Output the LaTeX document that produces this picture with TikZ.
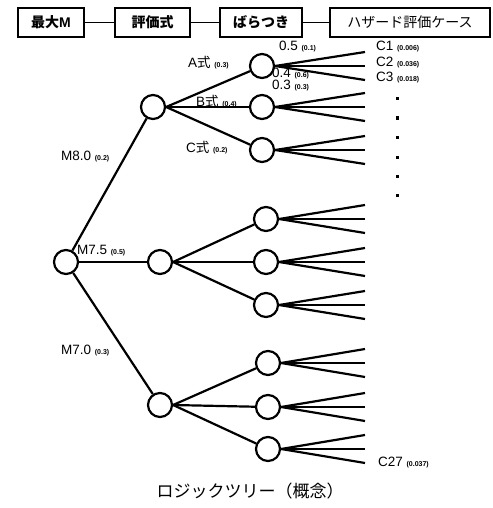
\documentclass[tikz,border=0pt]{standalone}
\usepackage{fontspec}
\setmainfont{Liberation Sans}
\newfontfamily\jp{Noto Sans CJK JP}
\newcommand\prb[1]{{\fontsize{7}{7}\selectfont\bfseries(#1)}}
\begin{document}
\begin{tikzpicture}[x=1pt,y=-1pt,
  line width=2.2pt,
  st/.style={circle,draw,line width=2.2pt,minimum size=24pt,inner sep=0pt,fill=white},
  hbox/.style={draw,line width=1.8pt,minimum height=29pt,inner sep=0pt,font=\bfseries\fontsize{14}{14}\selectfont},
  lab/.style={anchor=west,inner sep=0pt,font=\fontsize{13.5}{13.5}\selectfont},
  dot/.style={fill=black}
]
\useasboundingbox (0,0) rectangle (492,508);
% header boxes
\node[hbox,minimum width=66pt] (h1) at (51,22.5) {{\jp 最大}M};
\node[hbox,minimum width=75pt] (h2) at (152.5,22.5) {\jp 評価式};
\node[hbox,minimum width=82pt] (h3) at (261,22.5) {\jp ばらつき};
\node[hbox,minimum width=160pt] (h4) at (410,22.5) {\jp\mdseries ハザード評価ケース};
\draw[line width=1.8pt] (h1.east) -- (h2.west);
\draw[line width=1.8pt] (h2.east) -- (h3.west);
\draw[line width=1.8pt] (h3.east) -- (h4.west);
% tree nodes
\node[st] (R) at (66,262) {};
\node[st] (a) at (153,107) {};
\node[st] (b) at (160,262) {};
\node[st] (c) at (160,405) {};
\node[st] (a1) at (262,66) {};
\node[st] (a2) at (262,107) {};
\node[st] (a3) at (262,150) {};
\node[st] (b1) at (266,219) {};
\node[st] (b2) at (266,262) {};
\node[st] (b3) at (266,305) {};
\node[st] (c1) at (268,363) {};
\node[st] (c2) at (268,407) {};
\node[st] (c3) at (268,449) {};
% edges
\draw (R) -- (a);
\draw (R) -- (b);
\draw (R) -- (c);
\foreach \p in {a,b,c}{
  \foreach \q in {1,2,3}{
    \draw (\p.east) -- (\p\q);
  }
}
% leaves
\foreach \n in {a1,a2,a3,b1,b2,b3,c1,c2,c3}{
  \path (\n) ++(0,-14) coordinate (\n-u);
  \path (\n) ++(0,14) coordinate (\n-d);
  \coordinate (\n-U) at (365,0 |- \n-u);
  \coordinate (\n-M) at (365,0 |- \n);
  \coordinate (\n-D) at (365,0 |- \n-d);
  \draw (\n.east) -- (\n-U);
  \draw (\n.east) -- (\n-M);
  \draw (\n.east) -- (\n-D);
}
% labels
\node[lab] (lm80) at (60,157) {M8.0 \prb{0.2}};
\node[lab] (lm75) at (76,251) {M7.5 \prb{0.5}};
\node[lab] (lm70) at (60,351) {M7.0 \prb{0.3}};
\node[lab] (lA) at (187,63) {A{\jp 式} \prb{0.3}};
\node[lab] (lB) at (195,102) {B{\jp 式} \prb{0.4}};
\node[lab] (lC) at (185,148) {C{\jp 式} \prb{0.2}};
\node[lab] (v1) at (278,47) {0.5 \prb{0.1}};
\node[lab] (v2) at (271,74) {0.4 \prb{0.6}};
\node[lab] (v3) at (271,86) {0.3 \prb{0.3}};
\node[lab] (k1) at (375,47) {C1 \prb{0.006}};
\node[lab] (k2) at (375,63) {C2 \prb{0.036}};
\node[lab] (k3) at (375,78) {C3 \prb{0.018}};
\node[lab] (k27) at (377,463) {C27 \prb{0.037}};
\foreach \y in {99,118,137,157,176,195}{
  \fill[dot] (395.5,\y-1.5) rectangle ++(3,3);
}
\node[font=\jp\fontsize{17}{17}\selectfont,inner sep=0pt] (cap) at (250,491) {ロジックツリー（概念）};
\end{tikzpicture}
\end{document}
